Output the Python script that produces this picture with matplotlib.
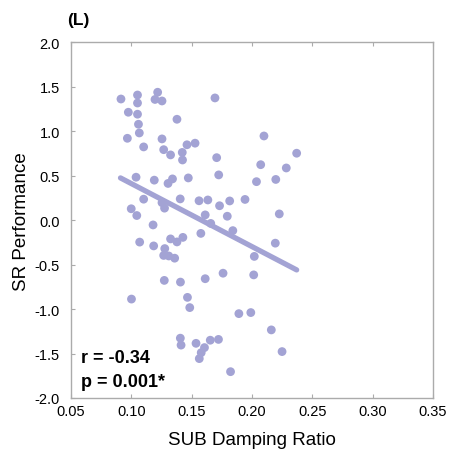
import matplotlib
matplotlib.use("Agg")
import matplotlib.pyplot as plt

plt.rcParams['font.family'] = ['Liberation Sans', 'DejaVu Sans']

# damping ratio vs SR performance
damping = [0.0914, 0.1051, 0.1051, 0.1218, 0.1196, 0.1254, 0.0975, 0.1051, 0.1059, 0.1066,
           0.0967, 0.1102, 0.1378, 0.1254, 0.1268, 0.1325, 0.1461, 0.1528, 0.1422, 0.1424,
           0.1693, 0.2099, 0.1707, 0.1724, 0.2072, 0.2284, 0.2370, 0.2037, 0.2197, 0.1039,
           0.1190, 0.1304, 0.1341, 0.1472, 0.1942, 0.1815, 0.1731, 0.1634, 0.1561, 0.1405,
           0.1254, 0.1275, 0.1102, 0.0999, 0.1045, 0.1612, 0.1795, 0.2226, 0.1658, 0.1841,
           0.1180, 0.1576, 0.2193, 0.2019, 0.1760, 0.2014, 0.1612, 0.1069, 0.1185, 0.1325,
           0.1378, 0.1427, 0.1277, 0.1268, 0.1310, 0.1359, 0.1273, 0.1407, 0.1001, 0.1465,
           0.1484, 0.1891, 0.1990, 0.2160, 0.2249, 0.1822, 0.1406, 0.1412, 0.1536, 0.1606,
           0.1654, 0.1722, 0.1579, 0.1563]
performance = [1.364, 1.409, 1.319, 1.440, 1.359, 1.342, 1.215, 1.193, 1.080, 0.982,
               0.922, 0.825, 1.136, 0.915, 0.794, 0.735, 0.849, 0.867, 0.763, 0.678,
               1.376, 0.948, 0.704, 0.510, 0.625, 0.588, 0.754, 0.434, 0.459, 0.484,
               0.451, 0.414, 0.465, 0.476, 0.234, 0.217, 0.163, 0.228, 0.219, 0.240,
               0.198, 0.136, 0.237, 0.129, 0.053, 0.060, 0.045, 0.071, -0.036, -0.117,
               -0.053, -0.148, -0.258, -0.407, -0.596, -0.615, -0.658, -0.246, -0.289, -0.210,
               -0.244, -0.193, -0.319, -0.396, -0.402, -0.427, -0.677, -0.696, -0.887, -0.868,
               -0.983, -1.051, -1.039, -1.234, -1.478, -1.704, -1.327, -1.405, -1.385, -1.433,
               -1.350, -1.341, -1.490, -1.557]

# regression line ends
fit_x = [0.091, 0.237]
fit_y = [0.476, -0.559]

xticks = [0.05, 0.10, 0.15, 0.20, 0.25, 0.30, 0.35]
yticks = [-2.0, -1.5, -1.0, -0.5, 0.0, 0.5, 1.0, 1.5, 2.0]

color = '#a3a3d4'
grey = '#ababab'

fig = plt.figure(figsize=(4.66, 4.52), dpi=100)
ax = fig.add_axes([0.1524, 0.1173, 0.7768, 0.7865])

ax.scatter(damping, performance, s=40, color=color, edgecolors='none', zorder=3)
ax.plot(fit_x, fit_y, color=color, linewidth=3.8, solid_capstyle='round', zorder=2)

ax.set_xlim(0.05, 0.35)
ax.set_ylim(-2.0, 2.0)
ax.set_xticks(xticks)
ax.set_yticks(yticks)
ax.set_xticklabels([f"{t:.2f}" for t in xticks])
ax.set_yticklabels([f"{t:.1f}" for t in yticks])

for s in ax.spines.values():
    s.set_color(grey)
    s.set_linewidth(1.0)

ax.tick_params(direction='in', length=3, color=grey, labelsize=10.5,
               top=True, right=False)
ax.tick_params(axis='y', pad=8)
ax.tick_params(axis='x', pad=4)

ax.set_xlabel("SUB Damping Ratio", fontsize=13.5, labelpad=10)
ax.set_ylabel("SR Performance", fontsize=13.5, labelpad=3)

ax.text(0.028, 0.115, "r = -0.34", transform=ax.transAxes, fontsize=13,
        fontweight='bold', va='center')
ax.text(0.028, 0.045, "p = 0.001*", transform=ax.transAxes, fontsize=13,
        fontweight='bold', va='center')

fig.text(0.143, 0.955, "(L)", fontsize=12.5, fontweight='bold', va='center')

fig.savefig("out.png", dpi=100)
